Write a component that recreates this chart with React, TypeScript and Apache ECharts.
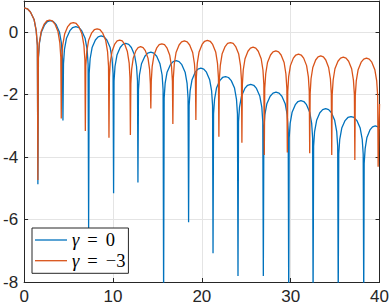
import React, { useEffect, useRef } from "react";
import * as echarts from "echarts";

// Tick values
const xTicks = [0, 10, 20, 30, 40];
const yTicks = [-8, -6, -4, -2, 0];
const seriesNames = ["γ = 0", "γ = −3"];

// γ = 0 (blue): [x, value]
const gamma0: [number, number][] = [
  [0, 0.78], [0.37, 0.75], [0.71, 0.65], [1.12, 0.41], [1.36, 0.05], [1.49, -0.42], [1.55, -4.87],
  [1.61, -0.83], [1.72, -0.36], [1.94, 0.0], [2.31, 0.24], [2.62, 0.34], [2.96, 0.37], [3.3, 0.34], [3.61, 0.24], [3.98, 0.0], [4.2, -0.36], [4.31, -0.83], [4.37, -2.83],
  [4.43, -1.02], [4.54, -0.55], [4.77, -0.19], [5.15, 0.05], [5.47, 0.15], [5.82, 0.18], [6.16, 0.15], [6.48, 0.05], [6.86, -0.19], [7.09, -0.55], [7.2, -1.02], [7.26, -6.28],
  [7.32, -1.32], [7.43, -0.85], [7.65, -0.49], [8.02, -0.25], [8.33, -0.15], [8.67, -0.12], [9.0, -0.15], [9.31, -0.25], [9.68, -0.49], [9.9, -0.85], [10.01, -1.32], [10.07, -5.16],
  [10.12, -1.56], [10.23, -1.09], [10.45, -0.73], [10.81, -0.49], [11.11, -0.39], [11.44, -0.36], [11.77, -0.39], [12.07, -0.49], [12.43, -0.73], [12.65, -1.09], [12.76, -1.56], [12.81, -4.81],
  [12.87, -1.84], [12.98, -1.37], [13.21, -1.01], [13.59, -0.77], [13.91, -0.67], [14.26, -0.64], [14.6, -0.67], [14.92, -0.77], [15.29, -1.01], [15.53, -1.37], [15.64, -1.84], [15.7, -8.6],
  [15.76, -2.11], [15.87, -1.64], [16.09, -1.28], [16.46, -1.04], [16.77, -0.94], [17.11, -0.91], [17.44, -0.94], [17.75, -1.04], [18.12, -1.28], [18.34, -1.64], [18.45, -2.11], [18.51, -6.09],
  [18.57, -2.35], [18.68, -1.88], [18.9, -1.52], [19.25, -1.28], [19.56, -1.18], [19.89, -1.15], [20.22, -1.18], [20.52, -1.28], [20.88, -1.52], [21.1, -1.88], [21.21, -2.35], [21.26, -7.08],
  [21.32, -2.62], [21.43, -2.15], [21.65, -1.79], [22.02, -1.55], [22.33, -1.45], [22.67, -1.42], [23.0, -1.45], [23.31, -1.55], [23.68, -1.79], [23.9, -2.15], [24.01, -2.62], [24.07, -7.81],
  [24.13, -2.87], [24.24, -2.4], [24.47, -2.04], [24.84, -1.8], [25.15, -1.7], [25.5, -1.67], [25.84, -1.7], [26.15, -1.8], [26.52, -2.04], [26.75, -2.4], [26.86, -2.87], [26.92, -7.81],
  [26.98, -3.12], [27.09, -2.65], [27.32, -2.29], [27.69, -2.05], [28.01, -1.95], [28.35, -1.92], [28.69, -1.95], [29.01, -2.05], [29.38, -2.29], [29.61, -2.65], [29.72, -3.12], [29.78, -8.6],
  [29.83, -3.39], [29.94, -2.92], [30.16, -2.56], [30.52, -2.32], [30.82, -2.22], [31.15, -2.19], [31.48, -2.22], [31.78, -2.32], [32.14, -2.56], [32.36, -2.92], [32.47, -3.39], [32.52, -8.6],
  [32.58, -3.65], [32.69, -3.18], [32.92, -2.82], [33.28, -2.58], [33.6, -2.48], [33.94, -2.45], [34.27, -2.48], [34.59, -2.58], [34.95, -2.82], [35.18, -3.18], [35.29, -3.65], [35.35, -8.6],
  [35.41, -3.9], [35.52, -3.43], [35.75, -3.07], [36.12, -2.83], [36.44, -2.73], [36.79, -2.7], [37.13, -2.73], [37.45, -2.83], [37.82, -3.07], [38.05, -3.43], [38.16, -3.9], [38.22, -8.6],
  [38.27, -4.2], [38.38, -3.73], [38.58, -3.37], [38.92, -3.13], [39.21, -3.03], [39.52, -3.0], [39.83, -3.03], [40.0, -3.1],
];

// γ = −3 (orange): [x, value]
const gammaM3: [number, number][] = [
  [0, 0.78], [0.37, 0.75], [0.71, 0.65], [1.12, 0.41], [1.36, 0.05], [1.49, -0.42], [1.55, -4.73],
  [1.6, -0.81], [1.71, -0.34], [1.92, 0.02], [2.26, 0.26], [2.55, 0.36], [2.87, 0.39], [3.18, 0.36], [3.47, 0.26], [3.81, 0.02], [4.02, -0.34], [4.13, -0.81], [4.18, -2.76],
  [4.23, -0.89], [4.34, -0.42], [4.56, -0.06], [4.91, 0.18], [5.21, 0.28], [5.54, 0.31], [5.86, 0.28], [6.16, 0.18], [6.51, -0.06], [6.73, -0.42], [6.84, -0.89], [6.89, -3.16],
  [6.94, -1.09], [7.05, -0.62], [7.26, -0.26], [7.61, -0.02], [7.9, 0.08], [8.22, 0.11], [8.54, 0.08], [8.83, -0.02], [9.18, -0.26], [9.39, -0.62], [9.5, -1.09], [9.55, -3.38],
  [9.6, -1.45], [9.69, -0.98], [9.89, -0.62], [10.2, -0.38], [10.47, -0.28], [10.76, -0.25], [11.04, -0.28], [11.31, -0.38], [11.62, -0.62], [11.82, -0.98], [11.91, -1.45], [11.96, -3.29],
  [12.01, -1.66], [12.1, -1.19], [12.28, -0.83], [12.58, -0.59], [12.83, -0.49], [13.11, -0.46], [13.39, -0.49], [13.64, -0.59], [13.94, -0.83], [14.12, -1.19], [14.21, -1.66], [14.26, -2.44],
  [14.31, -1.57], [14.41, -1.1], [14.61, -0.74], [14.93, -0.5], [15.2, -0.4], [15.5, -0.37], [15.8, -0.4], [16.07, -0.5], [16.39, -0.74], [16.59, -1.1], [16.69, -1.57], [16.74, -2.94],
  [16.79, -1.48], [16.9, -1.01], [17.1, -0.65], [17.44, -0.41], [17.72, -0.31], [18.04, -0.28], [18.35, -0.31], [18.63, -0.41], [18.97, -0.65], [19.17, -1.01], [19.28, -1.48], [19.33, -2.81],
  [19.38, -1.46], [19.49, -0.99], [19.69, -0.63], [20.03, -0.39], [20.31, -0.29], [20.63, -0.26], [20.94, -0.29], [21.22, -0.39], [21.56, -0.63], [21.76, -0.99], [21.87, -1.46], [21.92, -3.35],
  [21.97, -1.53], [22.08, -1.06], [22.28, -0.7], [22.62, -0.46], [22.9, -0.36], [23.22, -0.33], [23.53, -0.36], [23.81, -0.46], [24.15, -0.7], [24.35, -1.06], [24.46, -1.53], [24.51, -3.54],
  [24.56, -1.68], [24.66, -1.21], [24.86, -0.85], [25.19, -0.61], [25.47, -0.51], [25.77, -0.48], [26.07, -0.51], [26.35, -0.61], [26.68, -0.85], [26.88, -1.21], [26.98, -1.68], [27.03, -3.93],
  [27.08, -1.8], [27.19, -1.33], [27.39, -0.97], [27.73, -0.73], [28.01, -0.63], [28.33, -0.6], [28.64, -0.63], [28.92, -0.73], [29.26, -0.97], [29.46, -1.33], [29.57, -1.8], [29.62, -3.85],
  [29.67, -1.9], [29.77, -1.43], [29.97, -1.07], [30.3, -0.83], [30.58, -0.73], [30.88, -0.7], [31.18, -0.73], [31.46, -0.83], [31.79, -1.07], [31.99, -1.43], [32.09, -1.9], [32.14, -3.88],
  [32.19, -1.96], [32.29, -1.49], [32.49, -1.13], [32.81, -0.89], [33.08, -0.79], [33.38, -0.76], [33.68, -0.79], [33.95, -0.89], [34.27, -1.13], [34.47, -1.49], [34.57, -1.96], [34.62, -3.93],
  [34.67, -2.0], [34.78, -1.53], [34.98, -1.17], [35.32, -0.93], [35.61, -0.83], [35.92, -0.8], [36.23, -0.83], [36.52, -0.93], [36.86, -1.17], [37.06, -1.53], [37.17, -2.0], [37.22, -4.09],
  [37.27, -2.03], [37.38, -1.56], [37.59, -1.2], [37.93, -0.96], [38.22, -0.86], [38.53, -0.83], [38.84, -0.86], [39.13, -0.96], [39.47, -1.2], [39.68, -1.56], [39.79, -2.03], [39.84, -4.31],
  [40.0, -2.3],
];

const AXIS = "#262626";
const GRIDC = "#e4e4e4";
const BLUE = "#0072BD";
const ORANGE = "#D95319";

export default function App() {
  const ref = useRef<HTMLDivElement>(null);
  useEffect(() => {
    if (!ref.current) return;
    const chart = echarts.init(ref.current, undefined, { renderer: "svg" });
    const xMin = xTicks[0];
    const xMax = xTicks[xTicks.length - 1];
    const xInt = xTicks[1] - xTicks[0];
    const yMin = yTicks[0];
    const yInt = yTicks[1] - yTicks[0];
    const yMax = 1;
    const labelFont = { fontFamily: "Liberation Sans, Arial, sans-serif", fontSize: 17, color: AXIS };
    const baseX = {
      type: "value" as const, min: xMin, max: xMax, interval: xInt,
      axisLine: { show: true, onZero: false, lineStyle: { color: AXIS, width: 1 } },
      axisTick: { show: true, inside: true, length: 4, lineStyle: { color: AXIS, width: 1 } },
      minorTick: { show: false },
    };
    const baseY = {
      type: "value" as const, min: yMin, max: yMax, interval: yInt,
      axisLine: { show: true, onZero: false, lineStyle: { color: AXIS, width: 1 } },
      axisTick: { show: true, inside: true, length: 4, lineStyle: { color: AXIS, width: 1 } },
    };
    const serif = "'Liberation Serif', 'DejaVu Serif', serif";
    const serifRich = {
      g: { fontFamily: serif, fontStyle: "italic", fontSize: 18.5, color: "#000", lineHeight: 20 },
      e: { fontFamily: serif, fontSize: 18.5, color: "#000", padding: [0, 8, 0, 8], lineHeight: 20 },
      n: { fontFamily: serif, fontSize: 18.5, color: "#000", lineHeight: 20 },
    };
    chart.setOption({
      animation: false,
      backgroundColor: "#ffffff",
      grid: { left: 23, right: 9.5, top: 1, bottom: 23, containLabel: false },
      xAxis: [
        {
          ...baseX, position: "bottom",
          axisLabel: { ...labelFont, margin: 6 },
          splitLine: { show: true, lineStyle: { color: GRIDC, width: 1 } },
        },
        {
          ...baseX, position: "top",
          axisLabel: { show: false },
          splitLine: { show: false },
        },
      ],
      yAxis: [
        {
          ...baseY, position: "left",
          axisLabel: { ...labelFont, margin: 6, formatter: (v: number) => (v > 0.5 ? "" : String(v)) },
          splitLine: { show: true, lineStyle: { color: GRIDC, width: 1 } },
        },
        {
          ...baseY, position: "right",
          axisLabel: { show: false },
          splitLine: { show: false },
        },
      ],
      legend: {
        left: 32, top: 228, orient: "vertical",
        icon: "rect",
        itemWidth: 32, itemHeight: 1.3, itemGap: 0.7,
        padding: [2, 3, 2.6, 3],
        backgroundColor: "#ffffff", borderColor: AXIS, borderWidth: 1, borderRadius: 0,
        data: seriesNames,
        formatter: (name: string) => {
          const parts = name.split(" = ");
          return `{g|${parts[0]}}{e|=}{n|${parts[1]}}`;
        },
        textStyle: { fontFamily: serif, fontSize: 18.5, lineHeight: 20, color: "#000", rich: serifRich },
      },
      series: [
        {
          name: seriesNames[0], type: "line", data: gamma0, xAxisIndex: 0, yAxisIndex: 0,
          symbol: "none", showSymbol: false, clip: true,
          lineStyle: { color: BLUE, width: 1.3 }, itemStyle: { color: BLUE },
        },
        {
          name: seriesNames[1], type: "line", data: gammaM3, xAxisIndex: 0, yAxisIndex: 0,
          symbol: "none", showSymbol: false, clip: true,
          lineStyle: { color: ORANGE, width: 1.3 }, itemStyle: { color: ORANGE },
        },
      ],
    });
    return () => chart.dispose();
  }, []);
  return (
    <div
      ref={ref}
      style={{ position: "fixed", left: 0, top: 0, width: 392, height: 305, background: "#fff" }}
    />
  );
}
